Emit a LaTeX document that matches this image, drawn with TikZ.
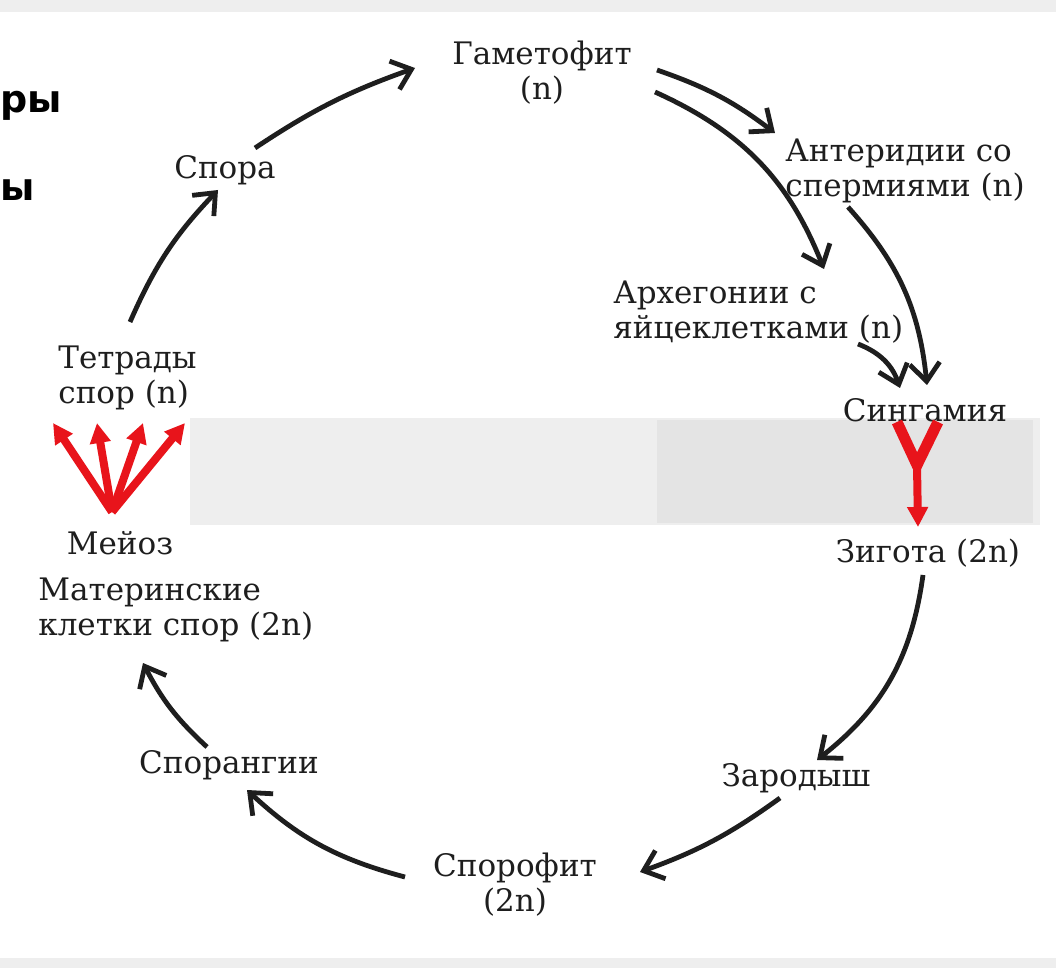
\documentclass[tikz,border=0pt]{standalone}
\usepackage{fontspec}
\setmainfont{DejaVu Serif}
\newfontfamily\scrapfont{DejaVu Sans}
\usetikzlibrary{arrows.meta,calc}
\definecolor{cInk}{HTML}{1E1E1E}
\definecolor{cMeio}{HTML}{E8141B}
\definecolor{cBand}{HTML}{EEEEEE}
\definecolor{cBandDk}{HTML}{E4E4E4}

\begin{document}
\begin{tikzpicture}[
    x=0.5pt, y=-0.5pt,
    lbl/.style={font=\fontsize{15.5}{17.5}\selectfont, text=cInk, inner sep=0pt, align=center},
    arr/.style={-{Straight Barb[length=9pt,width=15pt]}, line width=2.4pt, cInk},
    redarr/.style={-{Triangle[length=10pt,width=10pt]}, line width=4pt, cMeio}
]
\useasboundingbox (0,0) rectangle (1056,968);
\fill[white] (0,0) rectangle (1056,968);
% scan residue
\fill[cBand] (0,0) rectangle (1056,12);
\fill[cBand] (0,958) rectangle (1056,968);
\fill[cBand] (190,418) rectangle (1040,525);
\fill[cBandDk] (657,420) rectangle (1033,523);
\node[font=\scrapfont\bfseries\fontsize{19}{21}\selectfont, anchor=west, inner sep=0pt] (scrapA) at (0,106) {ры};
\node[font=\scrapfont\bfseries\fontsize{19}{21}\selectfont, anchor=west, inner sep=0pt] (scrapB) at (0,190) {ы};

% stages of the cycle
\node[lbl] (game) at (542,73) {Гаметофит\\(n)};
\node[lbl] (spora) at (225,170) {Спора};
\node[lbl, align=left, anchor=west] (anter) at (785,171) {Антеридии со\\спермиями (n)};
\node[lbl, align=left, anchor=west] (arch) at (613,312) {Архегонии с\\яйцеклетками (n)};
\node[lbl] (sing) at (925,410) {Сингамия};
\node[lbl] (zyg) at (928,553) {Зигота (2n)};
\node[lbl] (zarod) at (796,778) {Зародыш};
\node[lbl] (spor) at (515,885) {Спорофит\\(2n)};
\node[lbl] (spr) at (229,765) {Спорангии};
\node[lbl, align=left, anchor=west] (mat) at (38,610) {Материнские\\клетки спор (2n)};
\node[lbl] (meioz) at (120,543) {Мейоз};
\node[lbl, align=left, anchor=west] (tetr) at (58,378) {Тетрады\\спор (n)};

\foreach \a/\sa/\b/\sb/\bd in {
  spora/{30,-22}/game/{-127,-5}/7,
  tetr.west/{72,-56}/spora/{-7,20}/10,
  game/{115,-3}/anter.west/{-10,-38}/9,
  game/{113,19}/arch.west/{211,-43}/22,
  anter.west/{63,36}/sing/{2,-25}/18,
  arch.west/{245,32}/sing/{-25,-22}/25,
  zyg/{-5,22}/zarod/{21,-18}/22,
  zarod/{-16,20}/spor/{125,-13}/8,
  spor/{-110,-8}/spr/{18,25}/14,
  spr/{-22,-18}/mat.west/{105,53}/10} {
  \draw[arr] ($(\a)+(\sa)$) to[bend left=\bd] ($(\b)+(\sb)$);
}

% meiosis fan
\coordinate (mbase) at ($(meioz)+(-8,-31)$);
\foreach \dx [count=\i] in {-5,39,85,127} {
  \coordinate (mt\i) at ($(tetr.west)+(\dx,45)$);
  \draw[redarr] (mbase) -- (mt\i);
}

% syngamy
\coordinate (fuse) at ($(sing)+(-8,55)$);
\draw[cMeio, line width=5.5pt, miter limit=4] ($(sing)+(-28,12)$) -- (fuse) -- ($(sing)+(13,12)$);
\draw[redarr] (fuse) -- ($(zyg)+(-10,-26)$);
\end{tikzpicture}
\end{document}
